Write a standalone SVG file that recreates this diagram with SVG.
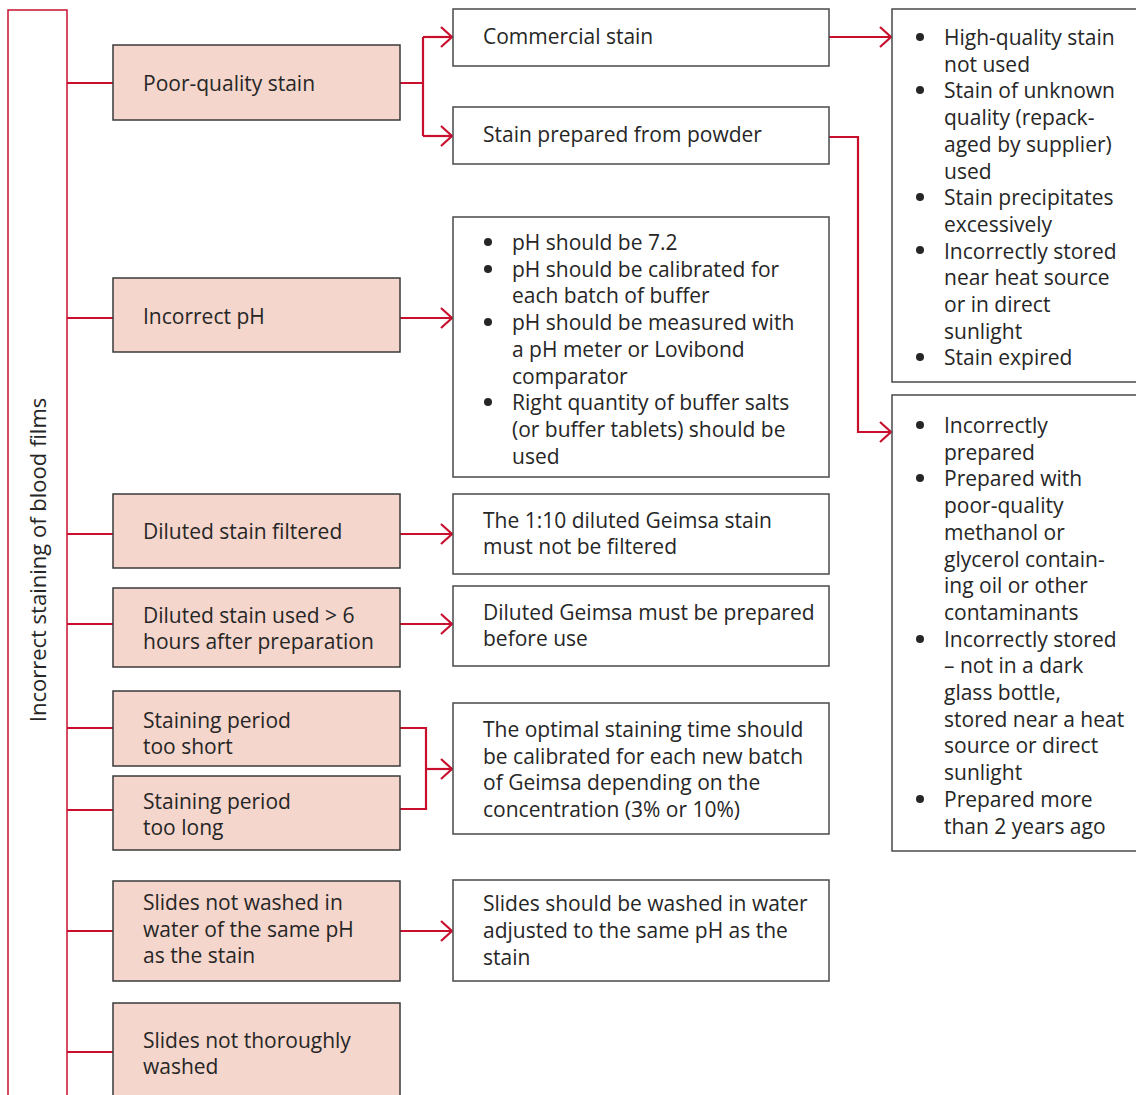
<svg xmlns="http://www.w3.org/2000/svg" width="1136" height="1095" viewBox="0 0 1136 1095">
<style>
.t{font-family:"Open Sans","Liberation Sans",sans-serif;font-size:21px;fill:#262626}
.pk{fill:#f5d6cc;stroke:#3a3a3a;stroke-width:1.5}
.wb{fill:#fff;stroke:#4a4a4a;stroke-width:1.5}
.c{fill:none;stroke:#c8102e;stroke-width:2.2}
.b{fill:#262626}
</style>
<defs>
<marker id="ah" markerUnits="userSpaceOnUse" markerWidth="16" markerHeight="24" refX="12" refY="11" orient="auto">
<path d="M1,1 L12,11 L1,21" fill="none" stroke="#c8102e" stroke-width="2.2"/>
</marker>
</defs>
<rect width="1136" height="1095" fill="#fff"/>

<g id="title">
<rect x="8" y="10" width="59" height="1100" fill="none" stroke="#c8102e" stroke-width="1.5"/>
<text class="t" style="font-size:22px" transform="translate(46,560) rotate(-90)" text-anchor="middle">Incorrect staining of blood films</text>
</g>

<g id="connectors">
<path class="c" d="M67,83 H113 M67,318 H113 M67,534 H113 M67,624 H113 M67,728 H113 M67,810 H113 M67,931 H113 M67,1052 H113"/>
<path class="c" d="M400,83 H423 M423,37 V136"/>
<path class="c" d="M423,37 H452" marker-end="url(#ah)"/>
<path class="c" d="M423,136 H452" marker-end="url(#ah)"/>
<path class="c" d="M829,37 H891" marker-end="url(#ah)"/>
<path class="c" d="M829,137 H858 V432 H891" marker-end="url(#ah)"/>
<path class="c" d="M400,318 H452" marker-end="url(#ah)"/>
<path class="c" d="M400,534 H452" marker-end="url(#ah)"/>
<path class="c" d="M400,624 H452" marker-end="url(#ah)"/>
<path class="c" d="M400,728 H426 V809 H400"/>
<path class="c" d="M426,769 H452" marker-end="url(#ah)"/>
<path class="c" d="M400,931 H452" marker-end="url(#ah)"/>
</g>

<g id="n-poor">
<rect class="pk" x="113" y="45" width="287" height="75"/>
<text class="t" x="143" y="91">Poor-quality stain</text>
</g>
<g id="n-ph">
<rect class="pk" x="113" y="278" width="287" height="74"/>
<text class="t" x="143" y="324">Incorrect pH</text>
</g>
<g id="n-filtered">
<rect class="pk" x="113" y="494" width="287" height="74"/>
<text class="t" x="143" y="539">Diluted stain filtered</text>
</g>
<g id="n-6h">
<rect class="pk" x="113" y="588" width="287" height="79"/>
<text class="t" x="143" y="623">Diluted stain used &gt; 6</text>
<text class="t" x="143" y="649">hours after preparation</text>
</g>
<g id="n-short">
<rect class="pk" x="113" y="691" width="287" height="75"/>
<text class="t" x="143" y="728">Staining period</text>
<text class="t" x="143" y="754">too short</text>
</g>
<g id="n-long">
<rect class="pk" x="113" y="776" width="287" height="74"/>
<text class="t" x="143" y="809">Staining period</text>
<text class="t" x="143" y="835">too long</text>
</g>
<g id="n-water">
<rect class="pk" x="113" y="881" width="287" height="100"/>
<text class="t" x="143" y="910">Slides not washed in</text>
<text class="t" x="143" y="937">water of the same pH</text>
<text class="t" x="143" y="963">as the stain</text>
</g>
<g id="n-thorough">
<rect class="pk" x="113" y="1003" width="287" height="110"/>
<text class="t" x="143" y="1048">Slides not thoroughly</text>
<text class="t" x="143" y="1074">washed</text>
</g>

<g id="n-commercial">
<rect class="wb" x="453" y="9" width="376" height="57"/>
<text class="t" x="483" y="44">Commercial stain</text>
</g>
<g id="n-powder">
<rect class="wb" x="453" y="107" width="376" height="57"/>
<text class="t" x="483" y="142">Stain prepared from powder</text>
</g>
<g id="n-phinfo">
<rect class="wb" x="453" y="217" width="376" height="260"/>
<circle class="b" cx="488" cy="242" r="4"/>
<circle class="b" cx="488" cy="269" r="4"/>
<circle class="b" cx="488" cy="322" r="4"/>
<circle class="b" cx="488" cy="402" r="4"/>
<text class="t" x="512" y="250">pH should be 7.2</text>
<text class="t" x="512" y="276.7">pH should be calibrated for</text>
<text class="t" x="512" y="303.4">each batch of buffer</text>
<text class="t" x="512" y="330.1">pH should be measured with</text>
<text class="t" x="512" y="356.8">a pH meter or Lovibond</text>
<text class="t" x="512" y="383.5">comparator</text>
<text class="t" x="512" y="410.2">Right quantity of buffer salts</text>
<text class="t" x="512" y="436.9">(or buffer tablets) should be</text>
<text class="t" x="512" y="463.6">used</text>
</g>
<g id="n-nofilter">
<rect class="wb" x="453" y="494" width="376" height="80"/>
<text class="t" x="483" y="528">The 1:10 diluted Geimsa stain</text>
<text class="t" x="483" y="554">must not be filtered</text>
</g>
<g id="n-beforeuse">
<rect class="wb" x="453" y="586" width="376" height="80"/>
<text class="t" x="483" y="620">Diluted Geimsa must be prepared</text>
<text class="t" x="483" y="646">before use</text>
</g>
<g id="n-optimal">
<rect class="wb" x="453" y="703" width="376" height="131"/>
<text class="t" x="483" y="737">The optimal staining time should</text>
<text class="t" x="483" y="764">be calibrated for each new batch</text>
<text class="t" x="483" y="790">of Geimsa depending on the</text>
<text class="t" x="483" y="817">concentration (3% or 10%)</text>
</g>
<g id="n-washph">
<rect class="wb" x="453" y="880" width="376" height="101"/>
<text class="t" x="483" y="911">Slides should be washed in water</text>
<text class="t" x="483" y="938">adjusted to the same pH as the</text>
<text class="t" x="483" y="965">stain</text>
</g>

<g id="n-commercial-causes">
<rect class="wb" x="892" y="9" width="260" height="373"/>
<circle class="b" cx="920" cy="37" r="4"/>
<circle class="b" cx="920" cy="90" r="4"/>
<circle class="b" cx="920" cy="197" r="4"/>
<circle class="b" cx="920" cy="250" r="4"/>
<circle class="b" cx="920" cy="357" r="4"/>
<text class="t" x="944" y="45">High-quality stain</text>
<text class="t" x="944" y="71.7">not used</text>
<text class="t" x="944" y="98.4">Stain of unknown</text>
<text class="t" x="944" y="125.1">quality (repack-</text>
<text class="t" x="944" y="151.8">aged by supplier)</text>
<text class="t" x="944" y="178.5">used</text>
<text class="t" x="944" y="205.2">Stain precipitates</text>
<text class="t" x="944" y="231.9">excessively</text>
<text class="t" x="944" y="258.6">Incorrectly stored</text>
<text class="t" x="944" y="285.3">near heat source</text>
<text class="t" x="944" y="312">or in direct</text>
<text class="t" x="944" y="338.7">sunlight</text>
<text class="t" x="944" y="365.4">Stain expired</text>
</g>
<g id="n-powder-causes">
<rect class="wb" x="892" y="395" width="260" height="456"/>
<circle class="b" cx="920" cy="425" r="4"/>
<circle class="b" cx="920" cy="478" r="4"/>
<circle class="b" cx="920" cy="639" r="4"/>
<circle class="b" cx="920" cy="799" r="4"/>
<text class="t" x="944" y="433">Incorrectly</text>
<text class="t" x="944" y="459.7">prepared</text>
<text class="t" x="944" y="486.4">Prepared with</text>
<text class="t" x="944" y="513.1">poor-quality</text>
<text class="t" x="944" y="539.8">methanol or</text>
<text class="t" x="944" y="566.5">glycerol contain-</text>
<text class="t" x="944" y="593.2">ing oil or other</text>
<text class="t" x="944" y="619.9">contaminants</text>
<text class="t" x="944" y="646.6">Incorrectly stored</text>
<text class="t" x="944" y="673.3">– not in a dark</text>
<text class="t" x="944" y="700">glass bottle,</text>
<text class="t" x="944" y="726.7">stored near a heat</text>
<text class="t" x="944" y="753.4">source or direct</text>
<text class="t" x="944" y="780.1">sunlight</text>
<text class="t" x="944" y="806.8">Prepared more</text>
<text class="t" x="944" y="833.5">than 2 years ago</text>
</g>
</svg>
